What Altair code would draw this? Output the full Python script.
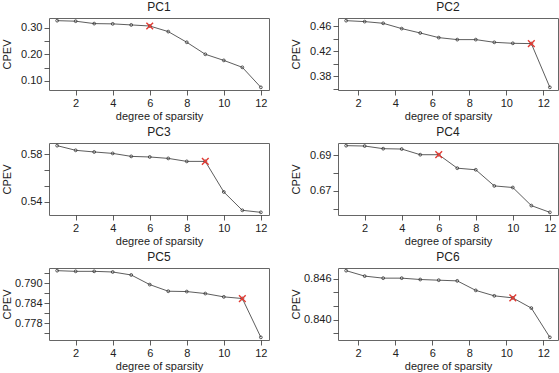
import altair as alt
import pandas as pd

# ---- data ----
panel_titles = ["PC1", "PC2", "PC3", "PC4", "PC5", "PC6"]

x_left = [1, 2, 3, 4, 5, 6, 7, 8, 9, 10, 11, 12]
# right-column panels show points shifted relative to their tick labels
x_right = [1.35, 2.35, 3.35, 4.35, 5.35, 6.35, 7.35, 8.35, 9.35, 10.35, 11.35, 12.35]

pc1 = [0.326, 0.324, 0.315, 0.314, 0.310, 0.306, 0.285, 0.245, 0.200, 0.177, 0.151, 0.076]
pc2 = [0.469, 0.4675, 0.4648, 0.4563, 0.4493, 0.4419, 0.4387, 0.4387, 0.4344, 0.4328, 0.4323, 0.3624]
pc3 = [0.5873, 0.5834, 0.5820, 0.5808, 0.5783, 0.5778, 0.5766, 0.5741, 0.5741, 0.5484, 0.5330, 0.5313]
pc4 = [0.6955, 0.6953, 0.6938, 0.6936, 0.6904, 0.6904, 0.6828, 0.6819, 0.6728, 0.6719, 0.6617, 0.6579]
pc5 = [0.7938, 0.7936, 0.7936, 0.7934, 0.7925, 0.7896, 0.7876, 0.7875, 0.7869, 0.7859, 0.7854, 0.7737]
pc6 = [0.8472, 0.8464, 0.8461, 0.8461, 0.8459, 0.8458, 0.8457, 0.8443, 0.8435, 0.8432, 0.8417, 0.8374]

selected = [6, 11, 9, 6, 11, 10]  # degree of sparsity marked with red X

yticks = [
    [0.10, 0.15, 0.20, 0.25, 0.30],
    [0.36, 0.38, 0.40, 0.42, 0.44, 0.46],
    [0.54, 0.5533, 0.5667, 0.58],
    [0.66, 0.67, 0.68, 0.69],
    [0.775, 0.778, 0.781, 0.784, 0.787, 0.790, 0.793],
    [0.838, 0.840, 0.842, 0.844, 0.846],
]
ylabeled = [
    [0.10, 0.20, 0.30],
    [0.38, 0.42, 0.46],
    [0.54, 0.58],
    [0.67, 0.69],
    [0.778, 0.784, 0.790],
    [0.840, 0.846],
]
yformats = [".2f", ".2f", ".2f", ".2f", ".3f", ".3f"]
xticks = [2, 4, 6, 8, 10, 12]

FONT = "Liberation Sans"
INK = "#333333"


def panel(i, xs, ys):
    df = pd.DataFrame({"x": xs, "y": ys, "deg": x_left})
    lo, hi = min(ys), max(ys)
    r = hi - lo
    ydom = [lo - 0.04 * r, hi + 0.04 * r]
    xr = max(xs) - min(xs)
    xdom = [min(xs) - 0.04 * xr, max(xs) + 0.04 * xr]
    lab = ",".join(repr(v) for v in ylabeled[i])
    xenc = alt.X(
        "x:Q",
        scale=alt.Scale(domain=xdom, nice=False, zero=False),
        axis=alt.Axis(values=xticks, format="d", title="degree of sparsity"),
    )
    yenc = alt.Y(
        "y:Q",
        scale=alt.Scale(domain=ydom, nice=False, zero=False),
        axis=alt.Axis(
            values=yticks[i],
            format=yformats[i],
            labelExpr="indexof([" + lab + "], datum.value) >= 0 ? datum.label : ''",
            title="CPEV",
        ),
    )
    base = alt.Chart(df)
    line = base.mark_line(color=INK, strokeWidth=0.8).encode(x=xenc, y=yenc)
    pts = base.mark_point(shape="circle", size=8, filled=False, color=INK,
                          strokeWidth=0.8, opacity=1).encode(x=xenc, y=yenc)
    sel = base.transform_filter(alt.datum.deg == selected[i]).mark_point(
        shape="M-1,-1L1,1M1,-1L-1,1", size=45, filled=False, color="#e33b33",
        strokeWidth=1.4, opacity=1
    ).encode(x=xenc, y=yenc)
    return alt.layer(line, pts, sel).properties(
        width=220, height=72,
        title=alt.TitleParams(panel_titles[i], fontSize=12, fontWeight="normal",
                              offset=4, font=FONT, color="#222222"),
    )


series = [pc1, pc2, pc3, pc4, pc5, pc6]
xsets = [x_left, x_right, x_left, x_left, x_left, x_right]
charts = [panel(i, xsets[i], series[i]) for i in range(6)]

rows = [
    alt.hconcat(charts[0], charts[1], spacing=19).resolve_scale(x="independent", y="independent"),
    alt.hconcat(charts[2], charts[3], spacing=19).resolve_scale(x="independent", y="independent"),
    alt.hconcat(charts[4], charts[5], spacing=19).resolve_scale(x="independent", y="independent"),
]

chart = alt.vconcat(*rows, spacing=3).resolve_scale(x="independent", y="independent").configure(
    padding={"left": 0, "top": 0, "right": 0, "bottom": 0},
    background="white",
).configure_view(
    stroke="#666666", strokeWidth=1
).configure_title(
    fontWeight="normal", font=FONT
).configure_axis(
    domain=False, grid=False, tickSize=5, tickColor=INK, tickWidth=0.8,
    labelFont=FONT, titleFont=FONT, labelFontSize=11, titleFontSize=11,
    labelColor="#222222", titleColor="#222222", titleFontWeight="normal",
    labelPadding=2,
).configure_axisY(
    minExtent=36, maxExtent=36, titlePadding=1,
).configure_axisX(
    titlePadding=2, labelFlush=False, labelOverlap=False,
)

chart.save("out.html", embed_options={"renderer": "svg", "actions": False})
